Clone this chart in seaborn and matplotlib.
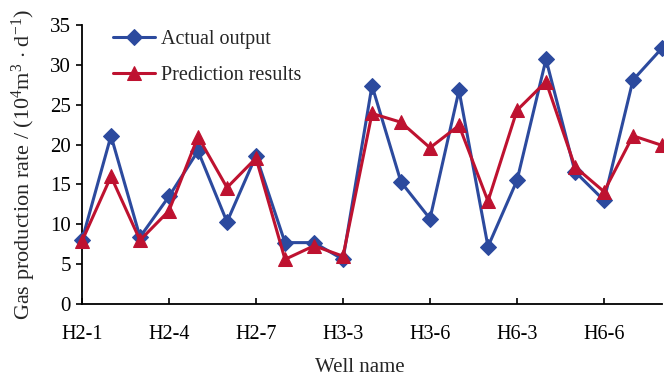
import matplotlib
matplotlib.use("Agg")
import matplotlib.pyplot as plt
import seaborn as sns
import pandas as pd
import numpy as np

# Data
positions = list(range(21))
actual_output = [8.0, 21.1, 8.4, 13.5, 19.2, 10.3, 18.6, 7.7, 7.7, 5.6,
                 27.4, 15.3, 10.7, 26.8, 7.2, 15.5, 30.7, 16.6, 13.0, 28.1, 32.1]
prediction_results = [7.9, 16.0, 8.0, 11.7, 21.0, 14.6, 18.3, 5.6, 7.3, 6.0,
                      23.9, 22.8, 19.6, 22.4, 12.9, 24.3, 27.9, 17.2, 14.1, 21.1, 19.9]
tick_positions = [0, 3, 6, 9, 12, 15, 18]
tick_labels = ["H2-1", "H2-4", "H2-7", "H3-3", "H3-6", "H6-3", "H6-6"]
y_ticks = [0, 5, 10, 15, 20, 25, 30, 35]

sns.set_style("ticks")
plt.rcParams["font.family"] = ["Liberation Serif", "DejaVu Serif"]
plt.rcParams["mathtext.fontset"] = "custom"
plt.rcParams["mathtext.rm"] = "Liberation Serif"
plt.rcParams["mathtext.it"] = "Liberation Serif:italic"

blue = "#2C4A9E"
red = "#BE1230"

df_a = pd.DataFrame({"x": positions, "y": actual_output})
df_p = pd.DataFrame({"x": positions, "y": prediction_results})

fig = plt.figure(figsize=(6.64, 3.77), dpi=100)
ax = fig.add_axes([82 / 664, 73 / 377, 580 / 664, 279 / 377])

sns.lineplot(data=df_a, x="x", y="y", ax=ax, color=blue, linewidth=2.2,
             marker="D", markersize=8.5, markeredgecolor=blue, label="Actual output",
             clip_on=False, zorder=3)
sns.lineplot(data=df_p, x="x", y="y", ax=ax, color=red, linewidth=2.2,
             marker="^", markersize=10, markeredgecolor=red, label="Prediction results",
             clip_on=False, zorder=4)

ax.set_xlim(0, 20)
ax.set_ylim(0, 35)
ax.set_yticks(y_ticks)
ax.set_xticks(tick_positions)
ax.set_xticklabels(tick_labels)

for s in ["top", "right"]:
    ax.spines[s].set_visible(False)
for s in ["left", "bottom"]:
    ax.spines[s].set_color("black")
    ax.spines[s].set_linewidth(1.3)

ax.tick_params(axis="y", direction="out", length=4, width=1.2, pad=4,
               labelsize=15, colors="black")
ax.tick_params(axis="x", direction="in", length=4, width=1.2, pad=15,
               labelsize=14.5, colors="black")

ax.set_xlabel("Well name", fontsize=15)
ax.xaxis.set_label_coords(0.479, -0.194)
ax.set_ylabel(r"Gas production rate / (10$^4$m$^3$ $\cdot$ d$^{-1}$)", fontsize=16)
ax.yaxis.set_label_coords(-0.076, 0.5)

leg = ax.legend(loc="upper left", bbox_to_anchor=(0.04, 1.012), frameon=False,
                fontsize=14.5, handlelength=2.05, handletextpad=0.3,
                labelspacing=0.85, borderaxespad=0)

fig.savefig("out.png", dpi=100, facecolor="white")
